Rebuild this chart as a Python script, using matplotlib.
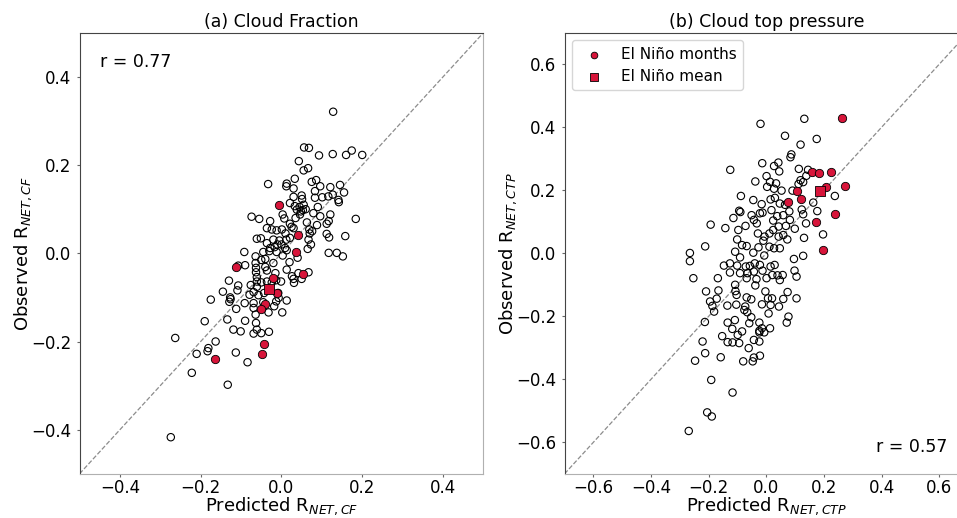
import numpy as np
import matplotlib
matplotlib.use('Agg')
import matplotlib.pyplot as plt

# panel (a): cloud fraction, all months (predicted, observed)
cf_pred = [0.128, 0.056, 0.068, 0.174, 0.200, 0.127, 0.093, 0.160, 0.043, 0.066,
           0.055, 0.033, -0.033, 0.013, 0.012, 0.075, 0.086, 0.096, 0.121, 0.145,
           0.155, 0.127, 0.083, 0.030, 0.050, 0.051, 0.101, 0.116, 0.141, 0.142,
           0.083, 0.030, 0.021, 0.033, 0.045, 0.055, 0.038, 0.053, 0.046, 0.079,
           0.096, 0.121, 0.117, 0.112, 0.184, -0.074, -0.055, -0.028, 0.003, 0.007,
           0.021, 0.030, 0.063, 0.069, 0.076, 0.088, 0.112, 0.118, 0.158, -0.036,
           -0.024, -0.012, 0.001, -0.061, -0.051, -0.036, -0.020, -0.005, 0.012, 0.021,
           0.067, 0.073, -0.028, -0.017, 0.009, 0.013, -0.045, -0.012, 0.003, -0.092,
           0.117, 0.137, 0.152, -0.064, -0.064, -0.040, -0.040, -0.036, -0.090, -0.107,
           -0.063, -0.063, -0.020, 0.013, 0.026, 0.030, 0.031, 0.042, 0.050, 0.067,
           -0.061, -0.061, -0.050, -0.036, -0.024, -0.013, -0.001, -0.130, -0.076, -0.061,
           -0.107, -0.109, -0.145, -0.127, -0.129, -0.126, -0.079, -0.069, -0.057, -0.043,
           -0.028, -0.008, -0.007, -0.013, 0.013, -0.175, -0.091, -0.069, -0.045, -0.018,
           -0.112, -0.069, -0.032, 0.002, -0.064, -0.134, -0.090, -0.063, -0.190, -0.119,
           -0.101, -0.061, -0.069, -0.050, -0.031, -0.263, -0.181, -0.183, -0.163, -0.210,
           -0.113, -0.084, -0.222, -0.133, -0.274,
           0.060, 0.048, 0.025, 0.010, -0.010, 0.090, 0.070, 0.040, -0.030, -0.050,
           0.000, 0.035, 0.065, -0.015, 0.020]
cf_obs = [0.321, 0.240, 0.239, 0.233, 0.223, 0.225, 0.222, 0.223, 0.209, 0.193,
          0.188, 0.169, 0.157, 0.158, 0.152, 0.162, 0.166, 0.152, 0.150, 0.155,
          0.138, 0.133, 0.141, 0.147, 0.131, 0.123, 0.127, 0.129, 0.121, 0.116,
          0.126, 0.128, 0.114, 0.107, 0.105, 0.110, 0.099, 0.098, 0.088, 0.091,
          0.084, 0.088, 0.073, 0.067, 0.078, 0.083, 0.078, 0.073, 0.088, 0.079,
          0.067, 0.057, 0.070, 0.054, 0.050, 0.064, 0.044, 0.036, 0.039, 0.057,
          0.054, 0.052, 0.054, 0.033, 0.034, 0.023, 0.031, 0.029, 0.031, 0.035,
          0.031, 0.020, 0.012, 0.014, 0.012, 0.007, 0.003, 0.003, -0.005, 0.003,
          0.001, 0.001, -0.007, -0.007, -0.022, -0.013, -0.031, -0.039, -0.027, -0.028,
          -0.033, -0.043, -0.022, -0.037, -0.052, -0.058, -0.067, -0.045, -0.058, -0.043,
          -0.054, -0.064, -0.066, -0.064, -0.066, -0.061, -0.064, -0.062, -0.072, -0.076,
          -0.073, -0.084, -0.087, -0.100, -0.110, -0.104, -0.094, -0.088, -0.095, -0.090,
          -0.082, -0.090, -0.101, -0.109, -0.107, -0.105, -0.113, -0.113, -0.111, -0.120,
          -0.126, -0.124, -0.134, -0.134, -0.139, -0.150, -0.153, -0.158, -0.154, -0.173,
          -0.177, -0.173, -0.182, -0.181, -0.178, -0.192, -0.215, -0.222, -0.200, -0.228,
          -0.225, -0.247, -0.271, -0.298, -0.417,
          0.100, 0.095, 0.060, 0.045, 0.020, 0.105, 0.045, -0.010, 0.005, -0.015,
          0.020, 0.080, 0.010, -0.045, -0.020]

# panel (a): El Nino months and their mean
cf_nino_pred = [-0.007, 0.042, 0.036, -0.113, 0.053, -0.021, -0.010, -0.040, -0.050, -0.044, -0.048, -0.164]
cf_nino_obs = [0.109, 0.042, 0.002, -0.031, -0.047, -0.057, -0.090, -0.116, -0.126, -0.206, -0.228, -0.239]
cf_mean = (-0.031, -0.082)

# panel (b): cloud top pressure, all months (predicted, observed)
ctp_pred = [0.132, -0.020, 0.065, 0.175, 0.119, 0.087, 0.084, -0.014, 0.042, 0.027,
            0.045, -0.125, 0.113, 0.145, 0.139, 0.119, 0.128, -0.038, 0.001, 0.013,
            0.034, 0.003, 0.027, 0.053, 0.091, 0.112, -0.088, -0.045, -0.016, 0.015,
            0.030, 0.047, 0.065, 0.080, 0.123, 0.163, 0.177, 0.238, -0.094, -0.090,
            -0.051, -0.022, -0.013, 0.018, 0.038, 0.059, 0.082, 0.128, 0.138, -0.114,
            -0.193, -0.142, -0.043, -0.033, 0.024, 0.043, 0.068, 0.099, -0.072, -0.097,
            -0.029, -0.006, 0.011, 0.024, 0.043, 0.059, 0.073, 0.131, 0.197, -0.101,
            -0.084, -0.068, -0.010, -0.027, 0.011, 0.027, 0.047, -0.212, -0.265, -0.265,
            -0.253, -0.108, -0.091, -0.045, -0.007, 0.096, 0.128, -0.126, -0.147, -0.101,
            -0.071, -0.057, -0.040, -0.022, 0.015, 0.029, -0.126, -0.091, -0.065, -0.043,
            -0.013, 0.021, 0.039, 0.057, 0.098, 0.105, -0.168, -0.068, -0.034, 0.001,
            0.047, -0.108, -0.038, -0.166, -0.107, -0.003, 0.074, -0.209, -0.172, -0.103,
            -0.068, -0.052, 0.006, 0.020, 0.059, 0.105, -0.195, -0.187, -0.181, -0.135,
            -0.104, -0.073, -0.015, 0.015, 0.044, -0.076, -0.066, 0.008, -0.052, 0.077,
            -0.213, -0.134, -0.109, -0.059, -0.024, -0.015, 0.071, -0.024, 0.013, -0.118,
            -0.153, -0.084, -0.099, -0.024, -0.007, -0.221, -0.134, -0.117, -0.094, -0.043,
            -0.024, -0.212, -0.158, -0.061, -0.022, -0.247, -0.080, -0.047, -0.043, -0.191,
            -0.117, -0.205, -0.189, -0.269]
ctp_obs = [0.427, 0.411, 0.373, 0.363, 0.345, 0.314, 0.305, 0.286, 0.288, 0.277,
           0.260, 0.265, 0.268, 0.265, 0.246, 0.232, 0.226, 0.228, 0.245, 0.227,
           0.222, 0.211, 0.205, 0.199, 0.199, 0.220, 0.182, 0.169, 0.156, 0.171,
           0.176, 0.158, 0.154, 0.133, 0.139, 0.161, 0.134, 0.182, 0.135, 0.131,
           0.121, 0.127, 0.129, 0.137, 0.118, 0.121, 0.106, 0.124, 0.095, 0.112,
           0.091, 0.080, 0.106, 0.095, 0.104, 0.085, 0.087, 0.078, 0.087, 0.074,
           0.063, 0.053, 0.063, 0.074, 0.053, 0.058, 0.044, 0.049, 0.060, 0.044,
           0.026, 0.023, 0.040, 0.019, 0.021, 0.016, 0.016, 0.022, 0.001, -0.025,
           -0.079, 0.005, -0.013, 0.002, -0.007, -0.018, -0.008, -0.032, -0.039, -0.039,
           -0.042, -0.040, -0.032, -0.037, -0.042, -0.037, -0.061, -0.063, -0.063, -0.058,
           -0.055, -0.069, -0.070, -0.069, -0.055, -0.074, -0.079, -0.079, -0.082, -0.079,
           -0.085, -0.100, -0.102, -0.118, -0.120, -0.121, -0.123, -0.121, -0.144, -0.132,
           -0.140, -0.146, -0.143, -0.143, -0.145, -0.143, -0.153, -0.167, -0.185, -0.166,
           -0.163, -0.169, -0.162, -0.164, -0.169, -0.180, -0.187, -0.191, -0.203, -0.201,
           -0.218, -0.220, -0.212, -0.222, -0.220, -0.238, -0.220, -0.246, -0.238, -0.240,
           -0.263, -0.248, -0.259, -0.251, -0.251, -0.280, -0.282, -0.283, -0.285, -0.275,
           -0.280, -0.317, -0.330, -0.301, -0.325, -0.341, -0.343, -0.343, -0.331, -0.402,
           -0.442, -0.505, -0.518, -0.564]

# panel (b): El Nino months and their mean
ctp_nino_pred = [0.264, 0.158, 0.183, 0.223, 0.274, 0.206, 0.105, 0.120, 0.076, 0.240, 0.171, 0.198]
ctp_nino_obs = [0.431, 0.258, 0.256, 0.257, 0.214, 0.209, 0.198, 0.171, 0.164, 0.124, 0.098, 0.012]
ctp_mean = (0.185, 0.199)

red = '#d7153a'

fig = plt.figure(figsize=(9.57, 5.18), dpi=100)
ax1 = fig.add_axes([0.0831, 0.0853, 0.4220, 0.8514])
ax2 = fig.add_axes([0.5899, 0.0853, 0.4216, 0.8514])


def panel(ax, pred, obs, npred, nobs, mean, lim):
    ax.plot([-lim, lim], [-lim, lim], '--', color='#8c8c8c', lw=0.9, zorder=1)
    ax.scatter(pred, obs, s=28, facecolors='none', edgecolors='k', linewidths=0.8, zorder=2)
    ax.scatter(npred, nobs, s=36, color=red, edgecolors='k', linewidths=0.6,
               zorder=3, label='El Niño months')
    ax.scatter([mean[0]], [mean[1]], s=55, marker='s', color=red, edgecolors='k',
               linewidths=0.6, zorder=4, label='El Niño mean')
    ax.set_xlim(-lim, lim)
    ax.set_ylim(-lim, lim)
    ax.tick_params(labelsize=12, length=2.5, color='#666666')
    ax.tick_params(axis='x', pad=1)
    for side in ['top', 'left']:
        ax.spines[side].set_color('#444444')
    for side in ['bottom', 'right']:
        ax.spines[side].set_color('#b0b0b0')


panel(ax1, cf_pred, cf_obs, cf_nino_pred, cf_nino_obs, cf_mean, 0.5)
ax1.set_xticks([-0.4, -0.2, 0.0, 0.2, 0.4])
ax1.set_yticks([-0.4, -0.2, 0.0, 0.2, 0.4])
ax1.set_title('(a) Cloud Fraction', fontsize=12.5, pad=4)
ax1.set_xlabel('Predicted R$_{NET,CF}$', fontsize=13, labelpad=-1)
ax1.set_ylabel('Observed R$_{NET,CF}$', fontsize=13, labelpad=-2)
ax1.text(0.05, 0.955, 'r = 0.77', transform=ax1.transAxes, fontsize=12.5, va='top')

panel(ax2, ctp_pred, ctp_obs, ctp_nino_pred, ctp_nino_obs, ctp_mean, 0.7)
ax2.set_xticks([-0.6, -0.4, -0.2, 0.0, 0.2, 0.4, 0.6])
ax2.set_yticks([-0.6, -0.4, -0.2, 0.0, 0.2, 0.4, 0.6])
ax2.set_title('(b) Cloud top pressure', fontsize=12.5, pad=4)
ax2.set_xlabel('Predicted R$_{NET,CTP}$', fontsize=13, labelpad=-1)
ax2.set_ylabel('Observed R$_{NET,CTP}$', fontsize=13, labelpad=-2)
ax2.text(0.95, 0.04, 'r = 0.57', transform=ax2.transAxes, fontsize=12.5, ha='right', va='bottom')
ax2.legend(loc='upper left', fontsize=11, markerscale=0.8)

fig.savefig('out.png', dpi=100)
